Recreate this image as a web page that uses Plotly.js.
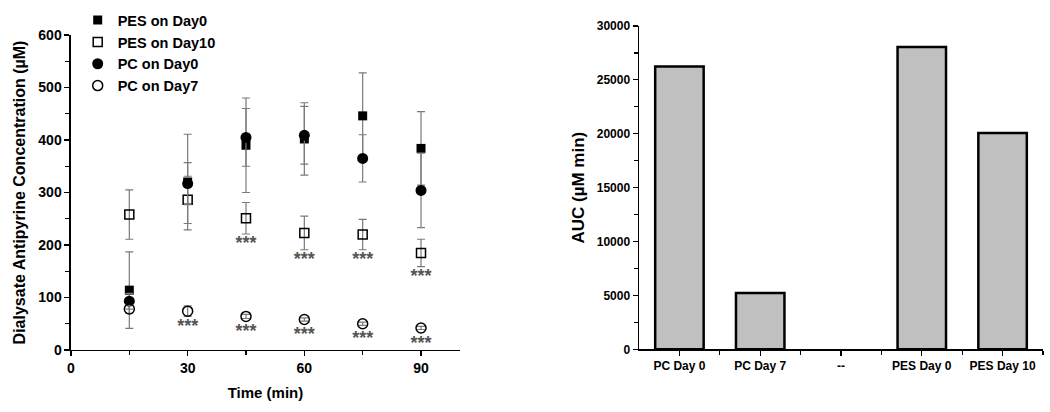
<!DOCTYPE html>
<html>
<head>
<meta charset="utf-8">
<script src="https://cdn.plot.ly/plotly-3.0.1.min.js"></script>
<style>
  html, body { margin: 0; padding: 0; background: #fff; }
  #chart { width: 1050px; height: 412px; }
</style>
</head>
<body>
<div id="chart"></div>
<script>
// time points (min)
const times = [15, 30, 45, 60, 75, 90];

// dialysate antipyrine concentration (uM), mean and error
const pesDay0 = [114, 320, 390, 402, 446, 384];
const pesDay0Err = [73, 91, 90, 69, 82, 70];
const pesDay10 = [258, 286, 251, 223, 220, 185];
const pesDay10Err = [47, 45, 30, 32, 29, 26];
const pcDay0 = [93, 317, 405, 409, 365, 304];
const pcDay0Err = [15, 40, 55, 55, 45, 71];
const pcDay7 = [78, 74, 64, 58, 50, 42];
const pcDay7Err = [8, 10, 4, 3, 3, 3];

// significance marks (only where the picture shows them)
const sigPes10 = ['', '', '***', '***', '***', '***'];
const sigPc7 = ['', '***', '***', '***', '***', '***'];

// AUC bar chart
const aucLabels = ['PC Day 0', 'PC Day 7', '--', 'PES Day 0', 'PES Day 10'];
const aucValues = [26250, 5230, null, 28050, 20060];

const bold = { family: 'Liberation Sans, Arial, sans-serif', weight: 'bold', color: '#000' };
const errStyle = (arr) => ({ type: 'data', array: arr, visible: true, color: '#7a7a7a', thickness: 1.2, width: 4 });
const starFont = { family: 'Liberation Sans, Arial, sans-serif', size: 18, color: '#555' };

const traces = [
    {
        x: times, y: pesDay0, name: 'PES on Day0', type: 'scatter', mode: 'markers',
        marker: { symbol: 'square', size: 9, color: '#000' },
        error_y: errStyle(pesDay0Err),
    },
    {
        x: times, y: pesDay10, name: 'PES on Day10', type: 'scatter', mode: 'markers',
        marker: { symbol: 'square-open', size: 9, color: '#000', line: { width: 1.5 } },
        error_y: errStyle(pesDay10Err),
    },
    {
        x: times, y: pcDay0, name: 'PC on Day0', type: 'scatter', mode: 'markers',
        marker: { symbol: 'circle', size: 11, color: '#000' },
        error_y: errStyle(pcDay0Err),
    },
    {
        x: times, y: pcDay7, name: 'PC on Day7', type: 'scatter', mode: 'markers',
        marker: { symbol: 'circle-open', size: 10, color: '#000', line: { width: 1.5 } },
        error_y: errStyle(pcDay7Err),
    },
    // asterisks below the open squares' lower whisker
    {
        x: times, y: pesDay10.map((v, i) => v - pesDay10Err[i]), text: sigPes10,
        type: 'scatter', mode: 'markers+text', textposition: 'bottom center', showlegend: false,
        marker: { size: 1, opacity: 0 }, textfont: starFont, hoverinfo: 'skip',
    },
    // asterisks below the open circles
    {
        x: times, y: pcDay7, text: sigPc7,
        type: 'scatter', mode: 'markers+text', textposition: 'bottom center', showlegend: false,
        marker: { size: 10, opacity: 0 }, textfont: starFont, hoverinfo: 'skip',
    },
    {
        x: aucLabels.map((_, i) => i), y: aucValues, type: 'bar', xaxis: 'x2', yaxis: 'y2',
        width: 0.6, showlegend: false,
        marker: { color: '#c0c0c0', line: { color: '#000', width: 2.5 } },
    },
];

const axisBase = {
    showline: true, linecolor: '#000', linewidth: 1.5, showgrid: false, zeroline: false,
    ticks: 'outside', ticklen: 5, tickwidth: 1.2, tickcolor: '#000',
};

const layout = {
    width: 1050, height: 412,
    margin: { l: 0, r: 0, t: 0, b: 0 },
    paper_bgcolor: '#fff', plot_bgcolor: '#fff',
    font: bold,
    showlegend: true,
    legend: {
        x: 0.074, y: 0.99, xanchor: 'left', yanchor: 'top',
        font: { ...bold, size: 14.5 }, tracegroupgap: 0, itemwidth: 30,
        bgcolor: 'rgba(0,0,0,0)',
    },
    xaxis: {
        ...axisBase, domain: [0.0676, 0.438], range: [0, 100], anchor: 'y',
        tickvals: [0, 30, 60, 90], tickfont: { ...bold, size: 14 },
        minor: { tickvals: [15, 45, 75], ticklen: 4, ticks: 'outside', tickcolor: '#000' },
        title: { text: 'Time (min)', font: { ...bold, size: 15 }, standoff: 12 },
    },
    yaxis: {
        ...axisBase, domain: [0.1505, 0.915], range: [0, 600], anchor: 'x',
        dtick: 100, tickfont: { ...bold, size: 14 },
        minor: { dtick: 50, ticklen: 4, ticks: 'outside', tickcolor: '#000' },
        title: { text: 'Dialysate Antipyrine Concentration (µM)', font: { ...bold, size: 16 }, standoff: 8 },
    },
    xaxis2: {
        ...axisBase, domain: [0.6086, 0.9933], range: [-0.5, 4.5], anchor: 'y2',
        tickvals: aucLabels.map((_, i) => i), ticktext: aucLabels, tickfont: { ...bold, size: 12 },
        minor: { tickvals: [0.5, 1.5, 2.5, 3.5, 4.5], ticklen: 4, ticks: 'outside', tickcolor: '#000' },
    },
    yaxis2: {
        ...axisBase, domain: [0.1522, 0.9369], range: [0, 30000], anchor: 'x2',
        dtick: 5000, tickformat: 'd', tickfont: { ...bold, size: 12 },
        minor: { dtick: 2500, ticklen: 4, ticks: 'outside', tickcolor: '#000' },
        title: { text: 'AUC (µM min)', font: { ...bold, size: 17 }, standoff: 8 },
    },
};

Plotly.newPlot('chart', traces, layout, { displayModeBar: false, staticPlot: true });
</script>
</body>
</html>
